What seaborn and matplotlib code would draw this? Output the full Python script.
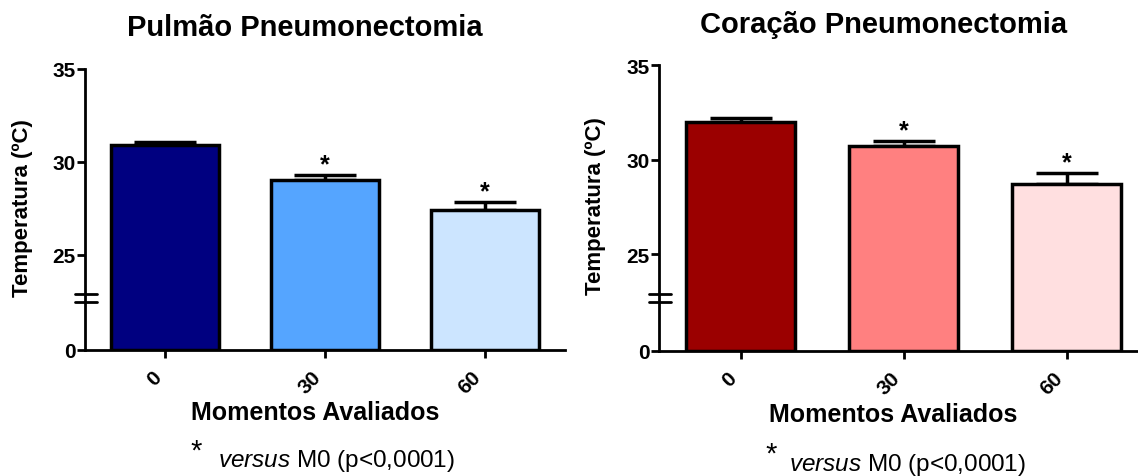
import numpy as np
import pandas as pd
import matplotlib
matplotlib.use("Agg")
import matplotlib.pyplot as plt
import seaborn as sns

# ---- data ----
moments = ["0", "30", "60"]
pulmao_mean = [30.9, 29.0, 27.4]
pulmao_sem = [0.15, 0.32, 0.45]
coracao_mean = [32.0, 30.7, 28.7]
coracao_sem = [0.22, 0.30, 0.60]
pulmao_colors = ["#000080", "#55A5FF", "#CCE5FF"]
coracao_colors = ["#9B0000", "#FF8080", "#FFDFE0"]
significant = [False, True, True]
titles = ["Pulmão Pneumonectomia", "Coração Pneumonectomia"]
ylabel = "Temperatura (ºC)"
xlabel = "Momentos Avaliados"
footnote = r"$\it{versus}$ M0 (p<0,0001)"
yticks = [0, 25, 30, 35]

sns.set_theme(style="ticks")
plt.rcParams["font.family"] = ["Liberation Sans", "DejaVu Sans"]
plt.rcParams["mathtext.fontset"] = "custom"
plt.rcParams["mathtext.it"] = "Liberation Sans:italic"
plt.rcParams["mathtext.rm"] = "Liberation Sans"
plt.rcParams["text.color"] = "black"
plt.rcParams["axes.labelcolor"] = "black"
plt.rcParams["xtick.color"] = "black"
plt.rcParams["ytick.color"] = "black"

# broken-axis scale (piecewise linear)
knots_data = np.array([0.0, 5.0, 22.9, 35.0])
knots_pos = np.array([0.0, 0.17, 0.20, 1.0])
def fwd(y):
    return np.interp(y, knots_data, knots_pos)
def inv(p):
    return np.interp(p, knots_pos, knots_data)

W, H = 1138, 477
fig = plt.figure(figsize=(W / 100, H / 100), dpi=100)
ax1 = fig.add_axes([85 / W, (H - 351) / H, 480 / W, 281 / H])
ax2 = fig.add_axes([659 / W, (H - 352) / H, 489 / W, 286 / H])

panels = [
    (ax1, pulmao_mean, pulmao_sem, pulmao_colors, titles[0], (305, 28)),
    (ax2, coracao_mean, coracao_sem, coracao_colors, titles[1], (884, 25)),
]

for ax, means, sems, cols, title, tpos in panels:
    df = pd.DataFrame({"Momento": moments, "Temp": means})
    sns.barplot(data=df, x="Momento", y="Temp", hue="Momento", palette=cols,
                saturation=1, legend=False, errorbar=None, width=0.67,
                edgecolor="black", linewidth=2.5, ax=ax, zorder=2)
    xs = np.arange(len(moments))
    ax.errorbar(xs, means, yerr=[np.zeros(len(sems)), sems], fmt="none",
                ecolor="black", elinewidth=2.5, capsize=22, capthick=2.5, zorder=1)
    ax.set_yscale("function", functions=(fwd, inv))
    ax.set_ylim(0, 35)
    ax.set_xlim(-0.5, 2.5)
    ax.set_yticks(yticks)
    ax.set_yticklabels([str(t) for t in yticks], fontsize=15, fontweight="bold")
    ax.yaxis.set_minor_locator(matplotlib.ticker.NullLocator())
    ax.set_xticks(xs)
    ax.set_xticklabels(moments, rotation=45, ha="right", fontsize=15, fontweight="bold")
    ax.tick_params(axis="both", direction="out", length=5.5, width=2, pad=1.5)
    ax.tick_params(axis="x", pad=7)
    for s in ["top", "right"]:
        ax.spines[s].set_visible(False)
    for s in ["left", "bottom"]:
        ax.spines[s].set_linewidth(2)
        ax.spines[s].set_color("black")
    ax.set_xlabel(xlabel, fontsize=18, fontweight="bold")
    ax.set_ylabel(ylabel, fontsize=16, fontweight="bold")
    ax.xaxis.set_label_coords(0.479, -0.178)
    ax.yaxis.set_label_coords(-0.108, 0.51)
    ax.set_facecolor("white")
    for x, m, e, sig in zip(xs, means, sems, significant):
        if sig:
            ax.annotate("*", xy=(x, m + e), xytext=(0, -1), textcoords="offset points",
                        ha="center", va="bottom", fontsize=18, fontweight="bold")
    fig.text(tpos[0] / W, 1 - tpos[1] / H, title, ha="center", va="center",
             fontsize=21, fontweight="bold")

fig.canvas.draw()
# break marks on the y axis
for ax in [ax1, ax2]:
    x0 = ax.transAxes.transform((0, 0))[0]
    for yb in [knots_data[1], knots_data[2]]:
        yd = ax.transData.transform((0, yb))[1]
        fig.add_artist(matplotlib.lines.Line2D([(x0 - 10) / W, (x0 + 12) / W],
                                               [yd / H, yd / H], color="black", lw=2,
                                               transform=fig.transFigure))

# footnotes
for sx, sy, txx, ty in [(196, 452, 218, 461), (771, 455, 789, 465)]:
    fig.text(sx / W, 1 - sy / H, "*", ha="center", va="center", fontsize=21)
    fig.text(txx / W, 1 - ty / H, footnote, ha="left", va="center", fontsize=17.5)

fig.savefig("out.png", dpi=100, facecolor="white")
